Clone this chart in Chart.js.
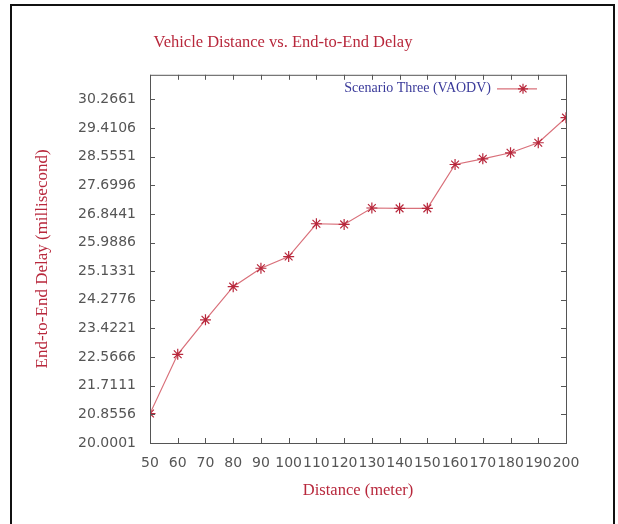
<!DOCTYPE html>
<html>
<head>
<meta charset="utf-8">
<script src="https://cdn.jsdelivr.net/npm/chart.js@4/dist/chart.umd.min.js"></script>
<style>
    html, body { margin: 0; padding: 0; background: #fff; }
    #wrap { position: relative; width: 618px; height: 524px; overflow: hidden; }
    #frame {
        position: absolute; left: 10px; top: 4px; width: 605px; height: 530px;
        border: 2px solid #111; box-sizing: border-box; pointer-events: none;
    }
    canvas { position: absolute; left: 0; top: 0; }
</style>
</head>
<body>
<div id="wrap">
    <canvas id="delay-chart" width="618" height="524"></canvas>
    <div id="frame"></div>
</div>
<script>
// 車距與端到端延遲

const distances = [50, 60, 70, 80, 90, 100, 110, 120, 130, 140, 150, 160, 170, 180, 190, 200];
const delays = [20.88, 22.65, 23.68, 24.67, 25.22, 25.57, 26.55, 26.53, 27.02, 27.01, 27.01, 28.32, 28.49, 28.67, 28.97, 29.72];
const yTicks = [20.0001, 20.8556, 21.7111, 22.5666, 23.4221, 24.2776, 25.1331, 25.9886,
    26.8441, 27.6996, 28.5551, 29.4106, 30.2661];
const seriesName = 'Scenario Three (VAODV)';

const RED = '#b8283c';
const LINE = '#d9707a';
const AXIS = '#555';

/**
 * 畫框線、內向刻度與圖例（仿 gnuplot）
 */
const gnuplotBox = {
    id: 'gnuplotBox',
    afterDatasetsDraw(chart) {
        const { ctx, chartArea: a, scales } = chart;
        ctx.save();
        ctx.strokeStyle = AXIS;
        ctx.lineWidth = 1;
        ctx.strokeRect(a.left + 0.5, a.top + 0.5, a.right - a.left, a.bottom - a.top);

        ctx.beginPath();
        scales.x.ticks.forEach((t) => {
            const px = Math.round(scales.x.getPixelForValue(t.value)) + 0.5;
            ctx.moveTo(px, a.bottom);
            ctx.lineTo(px, a.bottom - 5);
            ctx.moveTo(px, a.top);
            ctx.lineTo(px, a.top + 5);
        });
        scales.y.ticks.forEach((t) => {
            const py = Math.round(scales.y.getPixelForValue(t.value)) + 0.5;
            ctx.moveTo(a.left, py);
            ctx.lineTo(a.left + 5, py);
            ctx.moveTo(a.right, py);
            ctx.lineTo(a.right - 5, py);
        });
        ctx.stroke();

        // 圖例
        const ly = a.top + 14;
        const lineEnd = a.right - 29;
        const lineStart = lineEnd - 40;
        ctx.font = '14px "Liberation Serif", serif';
        ctx.fillStyle = '#3a3a9a';
        ctx.textAlign = 'right';
        ctx.textBaseline = 'middle';
        ctx.fillText(seriesName, lineStart - 6, ly);

        ctx.strokeStyle = LINE;
        ctx.lineWidth = 1.2;
        ctx.beginPath();
        ctx.moveTo(lineStart, ly);
        ctx.lineTo(lineEnd, ly);
        ctx.stroke();

        const mx = (lineStart + lineEnd) / 2 + 6;
        ctx.strokeStyle = RED;
        ctx.beginPath();
        const r = 5;
        ctx.moveTo(mx - r, ly); ctx.lineTo(mx + r, ly);
        ctx.moveTo(mx, ly - r); ctx.lineTo(mx, ly + r);
        const d = r * 0.707;
        ctx.moveTo(mx - d, ly - d); ctx.lineTo(mx + d, ly + d);
        ctx.moveTo(mx - d, ly + d); ctx.lineTo(mx + d, ly - d);
        ctx.stroke();
        ctx.restore();
    },
};

function initChart() {
    const ctx = document.getElementById('delay-chart');

    return new Chart(ctx, {
        type: 'line',
        data: {
            datasets: [
                {
                    label: seriesName,
                    data: distances.map((d, i) => ({ x: d, y: delays[i] })),
                    borderColor: LINE,
                    borderWidth: 1.2,
                    tension: 0,
                    pointStyle: 'star',
                    pointRadius: 5.5,
                    pointBorderColor: RED,
                    pointBorderWidth: 1.2,
                    pointBackgroundColor: RED,
                },
            ],
        },
        options: {
            responsive: false,
            animation: false,
            devicePixelRatio: 1,
            layout: {
                padding: { left: 0, right: 52, top: 0, bottom: 0 },
            },
            plugins: {
                title: {
                    display: true,
                    text: 'Vehicle Distance vs. End-to-End Delay',
                    color: RED,
                    font: { family: '"Liberation Serif", serif', size: 16.5, weight: 'normal' },
                    padding: { top: 33, bottom: 22 },
                },
                legend: { display: false },
                tooltip: { enabled: false },
            },
            scales: {
                x: {
                    type: 'linear',
                    min: 50,
                    max: 200,
                    grid: { display: false, drawTicks: false },
                    border: { display: false },
                    ticks: {
                        stepSize: 10,
                        autoSkip: false,
                        maxRotation: 0,
                        padding: 12,
                        color: AXIS,
                        font: { family: '"DejaVu Sans", sans-serif', size: 14 },
                    },
                    title: {
                        display: true,
                        text: 'Distance (meter)',
                        color: RED,
                        font: { family: '"Liberation Serif", serif', size: 16.5 },
                        padding: { top: 0, bottom: 23 },
                    },
                    afterFit(scale) {
                        scale.height = 81;
                    },
                },
                y: {
                    type: 'linear',
                    min: 20.0001,
                    max: 31,
                    grid: { display: false, drawTicks: false },
                    border: { display: false },
                    afterBuildTicks(scale) {
                        scale.ticks = yTicks.map((v) => ({ value: v }));
                    },
                    ticks: {
                        padding: 14,
                        color: AXIS,
                        font: { family: '"DejaVu Sans", sans-serif', size: 14 },
                        callback: (v) => v.toFixed(4),
                    },
                    title: {
                        display: true,
                        text: 'End-to-End Delay (millisecond)',
                        color: RED,
                        font: { family: '"Liberation Serif", serif', size: 17 },
                        padding: { top: 32, bottom: 0 },
                    },
                    afterFit(scale) {
                        scale.width = 150;
                    },
                },
            },
        },
        plugins: [gnuplotBox],
    });
}

initChart();
</script>
</body>
</html>
